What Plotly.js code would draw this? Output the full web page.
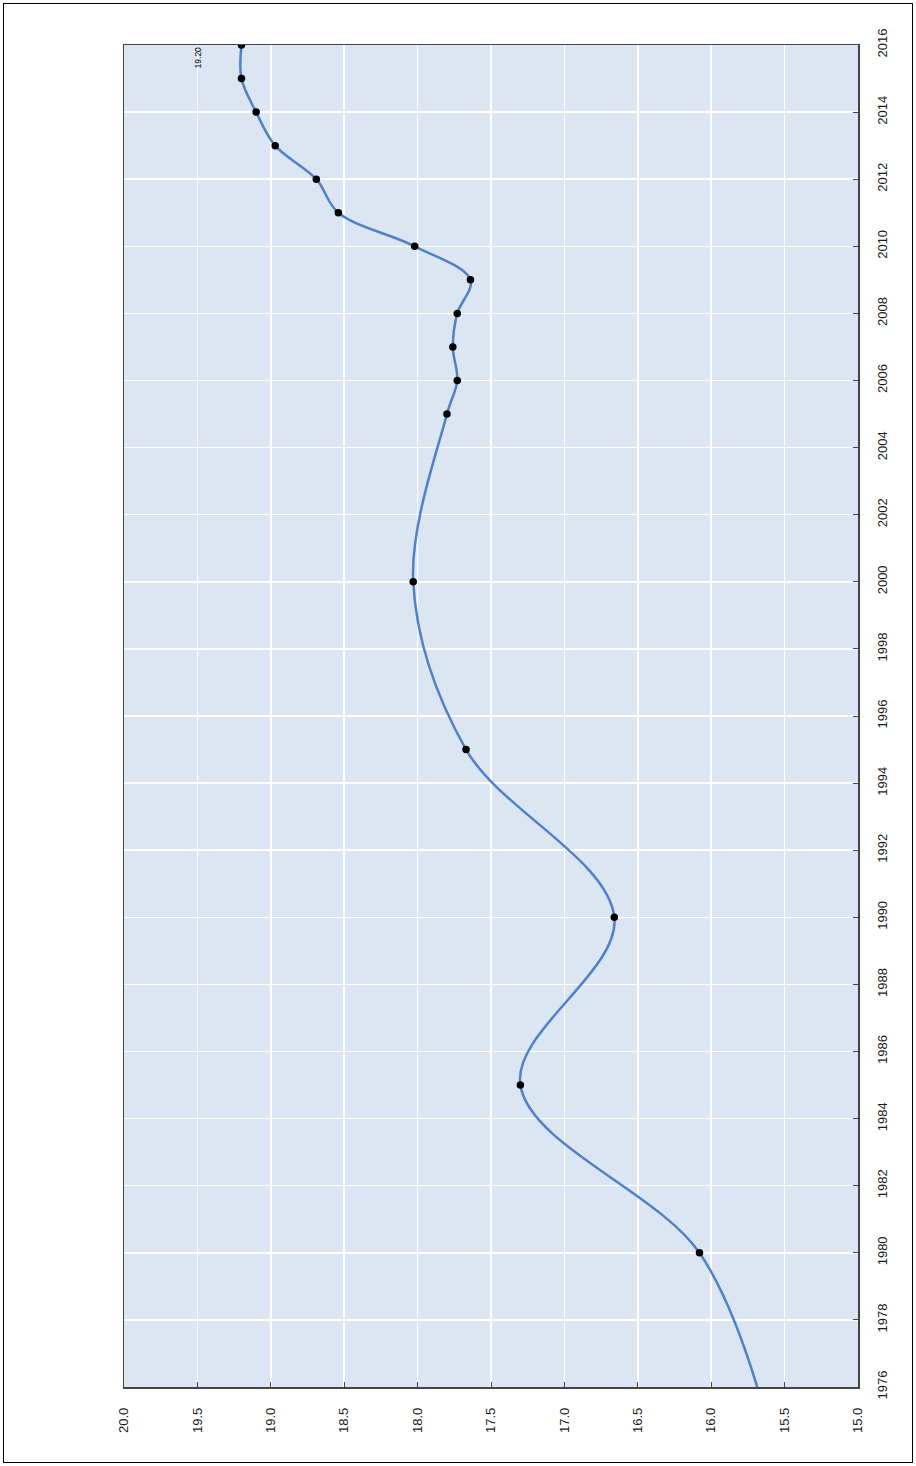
<!DOCTYPE html>
<html>
<head>
<meta charset="utf-8">
<script src="https://cdn.plot.ly/plotly-3.0.1.min.js"></script>
<style>
html, body { margin: 0; padding: 0; background: #fff; }
#wrap { position: relative; width: 916px; height: 1466px; }
#chart { width: 916px; height: 1466px; }
#frame { position: absolute; left: 3px; top: 3px; width: 908px; height: 1458px; border: 1px solid #000; pointer-events: none; }
</style>
</head>
<body>
<div id="wrap"><div id="chart"></div><div id="frame"></div></div>
<script>
// Data (year -> value); 1975 lies just outside the visible year range
const years  = [1975, 1980, 1985, 1990, 1995, 2000, 2005, 2006, 2007, 2008, 2009, 2010, 2011, 2012, 2013, 2014, 2015, 2016];
const values = [15.62, 16.08, 17.30, 16.66, 17.67, 18.03, 17.80, 17.73, 17.76, 17.73, 17.64, 18.02, 18.54, 18.69, 18.97, 19.10, 19.20, 19.20];
const markerYears  = years.slice(1);
const markerValues = values.slice(1);
const yearTicks = [1976,1978,1980,1982,1984,1986,1988,1990,1992,1994,1996,1998,2000,2002,2004,2006,2008,2010,2012,2014,2016];
const valueTicks = [20.0,19.5,19.0,18.5,18.0,17.5,17.0,16.5,16.0,15.5,15.0];
const lastLabel = "19.20";

const tickFont = { family: "Liberation Sans, Arial, sans-serif", size: 13, color: "#1a1a1a" };

const traces = [
  {
    x: values, y: years, type: "scatter", mode: "lines",
    line: { color: "#4f81c6", width: 2.5, shape: "spline", smoothing: 1 },
    hoverinfo: "skip", showlegend: false
  },
  {
    x: markerValues, y: markerYears, type: "scatter", mode: "markers",
    marker: { color: "#000", size: 7.5, symbol: "circle" },
    showlegend: false
  }
];

const layout = {
  width: 916, height: 1466,
  margin: { l: 124, r: 58, t: 45, b: 79, pad: 0 },
  paper_bgcolor: "#fff",
  plot_bgcolor: "#dce6f2",
  showlegend: false,
  xaxis: {
    range: [20, 15], autorange: false,
    tickvals: valueTicks, ticktext: valueTicks.map(v => v.toFixed(1)),
    tickangle: -90, tickfont: tickFont,
    ticks: "inside", ticklen: 5, tickwidth: 1, tickcolor: "#444",
    ticklabelstandoff: 14,
    showgrid: true, gridcolor: "#ffffff", gridwidth: 1.5,
    zeroline: false,
    showline: true, linecolor: "#444", linewidth: 1.5, mirror: true
  },
  yaxis: {
    range: [1976, 2016], autorange: false, side: "right",
    tickvals: yearTicks, ticktext: yearTicks.map(String),
    tickangle: -90, tickfont: tickFont,
    ticks: "inside", ticklen: 5, tickwidth: 1, tickcolor: "#444",
    ticklabelstandoff: 12,
    showgrid: true, gridcolor: "#ffffff", gridwidth: 1.5,
    zeroline: false,
    showline: true, linecolor: "#444", linewidth: 1.5, mirror: true
  },
  annotations: [
    {
      x: values[values.length - 1], y: years[years.length - 1],
      xref: "x", yref: "y", text: lastLabel, showarrow: false,
      textangle: -90, xshift: -43, yshift: -12,
      font: { family: "Liberation Sans, Arial, sans-serif", size: 8.5, color: "#000" }
    }
  ]
};

Plotly.newPlot("chart", traces, layout, { staticPlot: true, displayModeBar: false });
</script>
</body>
</html>
